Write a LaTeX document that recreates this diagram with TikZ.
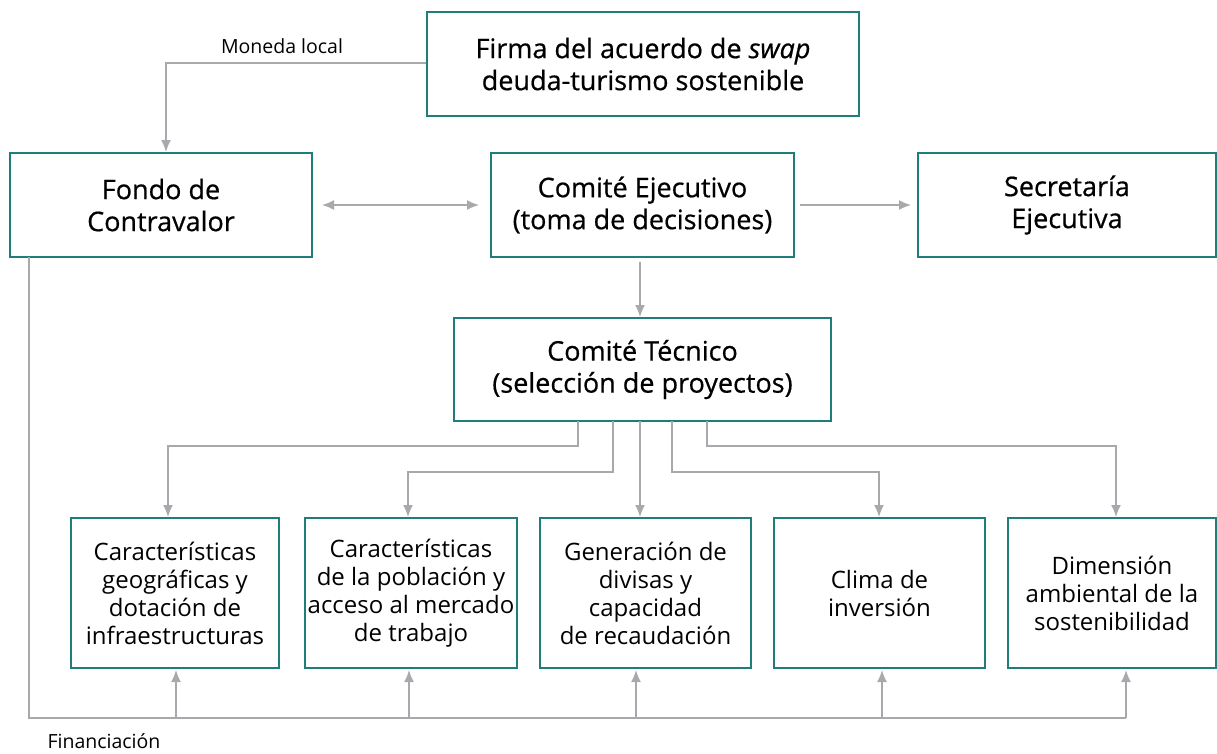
\documentclass[tikz,border=0pt]{standalone}
\usepackage{fontspec}
\setmainfont{Open Sans}
\usetikzlibrary{arrows.meta}
\definecolor{teal1}{HTML}{1F7D7A}
\definecolor{gline}{HTML}{A7A9AC}
\begin{document}
\begin{tikzpicture}[x=1pt,y=-1pt,
  topbox/.style={draw=teal1,line width=1.3pt,inner sep=0pt,align=center,font=\fontsize{27}{32}\selectfont\addfontfeatures{FakeBold=0.6}},
  botbox/.style={draw=teal1,line width=1.3pt,inner sep=0pt,align=center,font=\fontsize{24}{28}\selectfont},
  conn/.style={draw=gline,line width=1.6pt},
  arr/.style={conn,-{Latex[length=12pt,width=10pt]}},
  lbl/.style={font=\fontsize{19.5}{21}\selectfont,inner sep=0pt}]
\useasboundingbox (0,0) rectangle (1217,753);
\node[topbox,minimum width=432pt,minimum height=104pt] (firma) at (643,64) {Firma del acuerdo de \textit{swap}\\deuda-turismo sostenible};
\node[topbox,minimum width=302pt,minimum height=104pt] (fondo) at (161,205) {Fondo de\\Contravalor};
\node[topbox,minimum width=303pt,minimum height=104pt] (ejec) at (642.5,205) {Comité Ejecutivo\\(toma de decisiones)};
\node[topbox,minimum width=298pt,minimum height=104pt] (secr) at (1067,205) {Secretaría\\Ejecutiva};
\node[topbox,minimum width=377pt,minimum height=103pt] (tec) at (642.5,369.5) {Comité Técnico\\(selección de proyectos)};
\node[botbox,minimum width=208pt,minimum height=150pt] (b1) at (175,593) {Características\\geográficas y\\dotación de\\infraestructuras};
\node[botbox,minimum width=212pt,minimum height=150pt] (b2) at (411,593) {Características\\de la población y\\acceso al mercado\\de trabajo};
\node[botbox,minimum width=211pt,minimum height=150pt] (b3) at (645.5,593) {Generación de\\divisas y\\capacidad\\de recaudación};
\node[botbox,minimum width=211pt,minimum height=150pt] (b4) at (879.5,593) {Clima de\\inversión};
\node[botbox,minimum width=208pt,minimum height=150pt] (b5) at (1112,593) {Dimensión\\ambiental de la\\sostenibilidad};
\node[lbl] (ml) at (282,46) {Moneda local};
\node[lbl] (fin) at (104,741) {Financiación};
% Moneda local
\draw[arr] (firma.west |- 0,63) -- (166,63) -- (166,152);
% double arrow
\coordinate (d1) at (322,205); \coordinate (d2) at (479,205);
\draw[conn,{Latex[length=12pt,width=10pt]}-{Latex[length=12pt,width=10pt]}] (d1) -- (d2);
\draw[arr] (800,205) -- (911,205);
\draw[arr] (ejec.south -| 640,0) ++(0,4) -- (640,317);
% branches
\draw[arr] (578,421) -- (578,446) -- (168,446) -- (168,517);
\draw[arr] (613,421) -- (613,472) -- (408,472) -- (408,517);
\draw[arr] (640,421) -- (640,517);
\draw[arr] (672,421) -- (672,472) -- (879,472) -- (879,517);
\draw[arr] (707,421) -- (707,446) -- (1116,446) -- (1116,517);
% financiacion
\draw[conn] (29,257) -- (29,718) -- (1126,718);
\foreach \x in {176,409,636,882,1126}{\draw[arr] (\x,718) -- (\x,670);}
\end{tikzpicture}
\end{document}
